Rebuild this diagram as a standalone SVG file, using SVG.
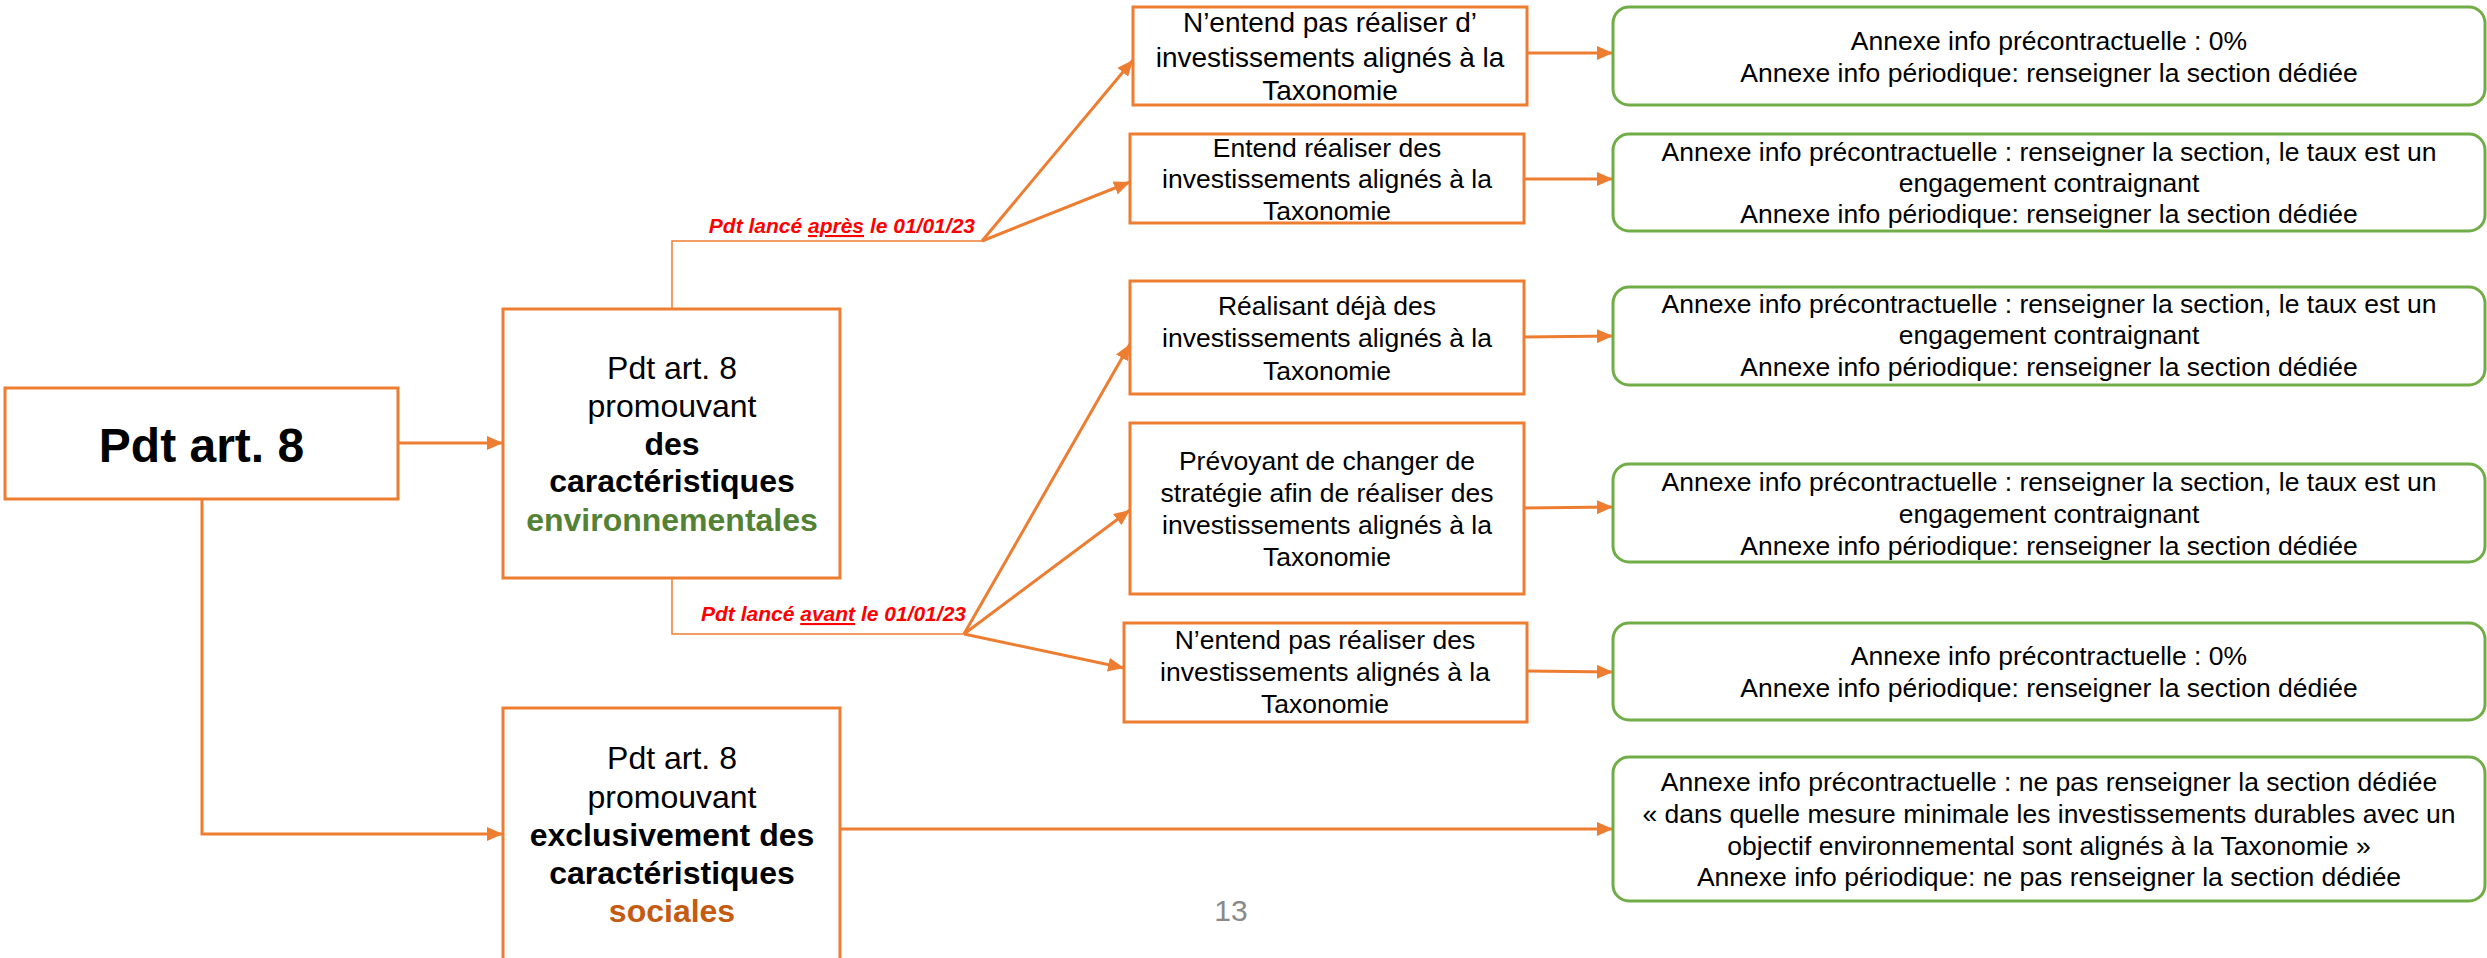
<svg xmlns="http://www.w3.org/2000/svg" width="2487" height="958" viewBox="0 0 2487 958">
<defs>
<marker id="ah" viewBox="0 0 16 14" refX="16" refY="7" markerWidth="16" markerHeight="14" markerUnits="userSpaceOnUse" orient="auto">
<path d="M0,0 L16,7 L0,14 z" fill="#ED7D31"/>
</marker>
<style>
.ob{fill:#fff;stroke:#ED7D31;stroke-width:3}
.gb{fill:#fff;stroke:#70AD47;stroke-width:3}
.t{font-family:"Liberation Sans",Arial,sans-serif;fill:#000;text-anchor:middle}
.s32{font-size:32px}
.s28{font-size:28px}
.s26{font-size:26.5px}
.b{font-weight:bold}
.c{fill:none;stroke:#ED7D31;stroke-width:3}
.thin{fill:none;stroke:#ED7D31;stroke-width:1.5}
.lbl{font-family:"Liberation Sans",Arial,sans-serif;font-size:21px;font-weight:bold;font-style:italic;fill:#FF0000;text-anchor:end}
</style>
</defs>
<rect width="2487" height="958" fill="#fff"/>

<g id="connectors">
<line class="c" x1="398" y1="443" x2="503" y2="443" marker-end="url(#ah)"/>
<polyline class="c" points="202,499 202,834 503,834" marker-end="url(#ah)"/>
<polyline class="thin" points="672,309 672,241 982,241"/>
<polyline class="thin" points="672,578 672,634 964,634"/>
<line class="c" x1="982" y1="241" x2="1133" y2="60" marker-end="url(#ah)"/>
<line class="c" x1="982" y1="241" x2="1130" y2="182" marker-end="url(#ah)"/>
<line class="c" x1="964" y1="634" x2="1130" y2="344" marker-end="url(#ah)"/>
<line class="c" x1="964" y1="634" x2="1130" y2="510" marker-end="url(#ah)"/>
<line class="c" x1="964" y1="634" x2="1124" y2="668" marker-end="url(#ah)"/>
<line class="c" x1="1527" y1="53" x2="1613" y2="53" marker-end="url(#ah)"/>
<line class="c" x1="1524" y1="179" x2="1613" y2="179" marker-end="url(#ah)"/>
<line class="c" x1="1524" y1="337" x2="1613" y2="336" marker-end="url(#ah)"/>
<line class="c" x1="1524" y1="508" x2="1613" y2="507" marker-end="url(#ah)"/>
<line class="c" x1="1527" y1="671" x2="1613" y2="672" marker-end="url(#ah)"/>
<line class="c" x1="840" y1="829" x2="1613" y2="829" marker-end="url(#ah)"/>
<text class="lbl" x="975" y="233">Pdt lancé <tspan text-decoration="underline">après</tspan> le 01/01/23</text>
<text class="lbl" x="966" y="621">Pdt lancé <tspan text-decoration="underline">avant</tspan> le 01/01/23</text>
</g>

<g id="root">
<rect class="ob" x="5" y="388" width="393" height="111"/>
<text class="t b" x="201.5" y="462" font-size="48">Pdt art. 8</text>
</g>

<g id="env">
<rect class="ob" x="503" y="309" width="337" height="269"/>
<text class="t s32" x="672" y="379">Pdt art. 8</text>
<text class="t s32" x="672" y="417">promouvant</text>
<text class="t s32 b" x="672" y="455">des</text>
<text class="t s32 b" x="672" y="492">caractéristiques</text>
<text class="t s32 b" x="672" y="531" style="fill:#548235">environnementales</text>
</g>

<g id="social">
<rect class="ob" x="503" y="708" width="337" height="265"/>
<text class="t s32" x="672" y="769">Pdt art. 8</text>
<text class="t s32" x="672" y="808">promouvant</text>
<text class="t s32 b" x="672" y="846">exclusivement des</text>
<text class="t s32 b" x="672" y="884">caractéristiques</text>
<text class="t s32 b" x="672" y="922" style="fill:#C55A11">sociales</text>
</g>

<g id="a1">
<rect class="ob" x="1133" y="7" width="394" height="98"/>
<text class="t s28" x="1330" y="32">N’entend pas réaliser d’</text>
<text class="t s28" x="1330" y="67">investissements alignés à la</text>
<text class="t s28" x="1330" y="100">Taxonomie</text>
</g>

<g id="a2">
<rect class="ob" x="1130" y="134" width="394" height="89"/>
<text class="t s26" x="1327" y="157">Entend réaliser des</text>
<text class="t s26" x="1327" y="188">investissements alignés à la</text>
<text class="t s26" x="1327" y="220">Taxonomie</text>
</g>

<g id="b1">
<rect class="ob" x="1130" y="281" width="394" height="113"/>
<text class="t s26" x="1327" y="315">Réalisant déjà des</text>
<text class="t s26" x="1327" y="347">investissements alignés à la</text>
<text class="t s26" x="1327" y="380">Taxonomie</text>
</g>

<g id="b2">
<rect class="ob" x="1130" y="423" width="394" height="171"/>
<text class="t s26" x="1327" y="470">Prévoyant de changer de</text>
<text class="t s26" x="1327" y="502">stratégie afin de réaliser des</text>
<text class="t s26" x="1327" y="534">investissements alignés à la</text>
<text class="t s26" x="1327" y="566">Taxonomie</text>
</g>

<g id="b3">
<rect class="ob" x="1124" y="623" width="403" height="99"/>
<text class="t s26" x="1325" y="649">N’entend pas réaliser des</text>
<text class="t s26" x="1325" y="681">investissements alignés à la</text>
<text class="t s26" x="1325" y="713">Taxonomie</text>
</g>

<g id="r1">
<rect class="gb" x="1613" y="7" width="872" height="98" rx="16" ry="16"/>
<text class="t s26" x="2049" y="50">Annexe info précontractuelle : 0%</text>
<text class="t s26" x="2049" y="82">Annexe info périodique: renseigner la section dédiée</text>
</g>

<g id="r2">
<rect class="gb" x="1613" y="134" width="872" height="97" rx="16" ry="16"/>
<text class="t s26" x="2049" y="161">Annexe info précontractuelle : renseigner la section, le taux est un</text>
<text class="t s26" x="2049" y="192">engagement contraignant</text>
<text class="t s26" x="2049" y="223">Annexe info périodique: renseigner la section dédiée</text>
</g>

<g id="r3">
<rect class="gb" x="1613" y="287" width="872" height="98" rx="16" ry="16"/>
<text class="t s26" x="2049" y="313">Annexe info précontractuelle : renseigner la section, le taux est un</text>
<text class="t s26" x="2049" y="344">engagement contraignant</text>
<text class="t s26" x="2049" y="376">Annexe info périodique: renseigner la section dédiée</text>
</g>

<g id="r4">
<rect class="gb" x="1613" y="464" width="872" height="98" rx="16" ry="16"/>
<text class="t s26" x="2049" y="491">Annexe info précontractuelle : renseigner la section, le taux est un</text>
<text class="t s26" x="2049" y="523">engagement contraignant</text>
<text class="t s26" x="2049" y="555">Annexe info périodique: renseigner la section dédiée</text>
</g>

<g id="r5">
<rect class="gb" x="1613" y="623" width="872" height="97" rx="16" ry="16"/>
<text class="t s26" x="2049" y="665">Annexe info précontractuelle : 0%</text>
<text class="t s26" x="2049" y="697">Annexe info périodique: renseigner la section dédiée</text>
</g>

<g id="r6">
<rect class="gb" x="1613" y="757" width="872" height="144" rx="16" ry="16"/>
<text class="t s26" x="2049" y="791">Annexe info précontractuelle : ne pas renseigner la section dédiée</text>
<text class="t s26" x="2049" y="823">« dans quelle mesure minimale les investissements durables avec un</text>
<text class="t s26" x="2049" y="855">objectif environnemental sont alignés à la Taxonomie »</text>
<text class="t s26" x="2049" y="886">Annexe info périodique: ne pas renseigner la section dédiée</text>
</g>

<g id="page">
<text x="1231" y="921" font-family="Liberation Sans, Arial, sans-serif" font-size="30" fill="#898989" text-anchor="middle">13</text>
</g>
</svg>
